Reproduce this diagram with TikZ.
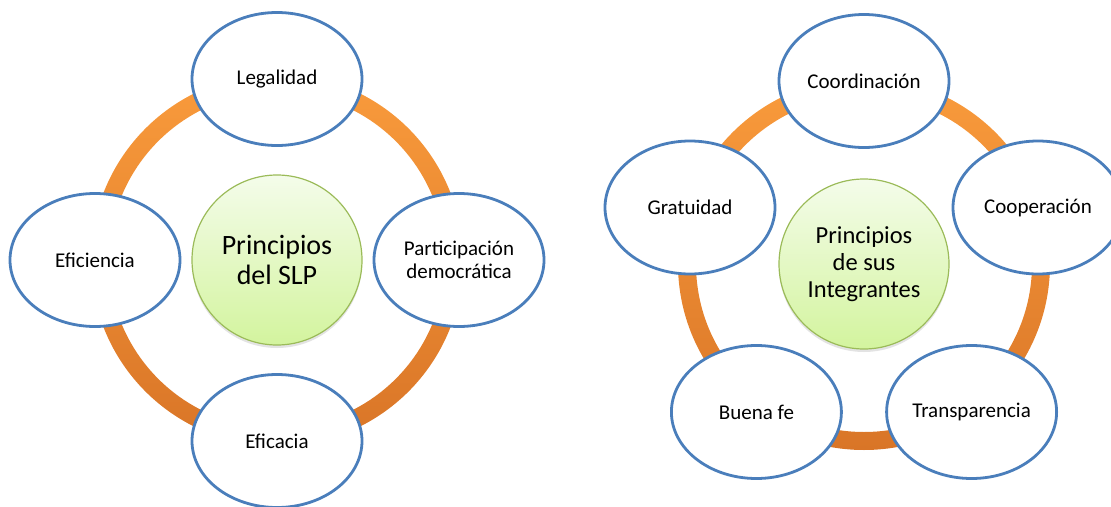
\documentclass[tikz,border=0pt]{standalone}
\usepackage{fontspec}
\setmainfont{Carlito}
\usetikzlibrary{shapes.geometric,shadows}
\definecolor{eblue}{HTML}{4A7EBB}
\definecolor{orgA}{HTML}{F99B3C}
\definecolor{orgB}{HTML}{D97527}
\definecolor{grnA}{HTML}{F4FCEA}
\definecolor{grnB}{HTML}{D3F49E}
\definecolor{grnE}{HTML}{9BBB59}
\begin{document}
\begin{tikzpicture}[x=1pt,y=-1pt,
  item/.style={ellipse, draw=eblue, line width=2.8pt, fill=white,
    minimum width=170pt, minimum height=133pt, inner sep=0pt, align=center,
    font=\fontsize{21}{23}\selectfont},
  hub/.style={circle, draw=grnE, line width=1.2pt, top color=grnA, bottom color=grnB,
    minimum size=170pt, inner sep=0pt, align=center,
    drop shadow={opacity=0.22, shadow xshift=0pt, shadow yshift=-3pt}},
  ringshade/.style={even odd rule, top color=orgA, bottom color=orgB}]
\useasboundingbox (0,0) rectangle (1111,506);

% ---------- left diagram ----------
\coordinate (cL) at (277,260);
\shade[ringshade] (cL) circle[radius=186pt] (cL) circle[radius=168pt];
\node[hub, font=\fontsize{28}{30}\selectfont] (hubL) at (cL) {Principios\\del SLP};
\node[item] (leg) at (277,79) {Legalidad};
\node[item] (par) at (459,260) {Participación\\democrática};
\node[item] (efa) at (277,441) {Eficacia};
\node[item] (efi) at (95,260) {Eficiencia};

% ---------- right diagram ----------
\coordinate (cR) at (864,264);
\shade[ringshade] (cR) circle[radius=186pt] (cR) circle[radius=168pt];
\node[hub, font=\fontsize{24.5}{27}\selectfont] (hubR) at (cR) {Principios\\de sus\\Integrantes};
\node[item] (coo) at (864,81) {Coordinación};
\node[item] (cop) at (1038,207.5) {Cooperación};
\node[item] (tra) at (971.6,412) {Transparencia};
\node[item] (bue) at (756.4,412) {Buena fe};
\node[item] (gra) at (690,207.5) {Gratuidad};
\end{tikzpicture}
\end{document}
